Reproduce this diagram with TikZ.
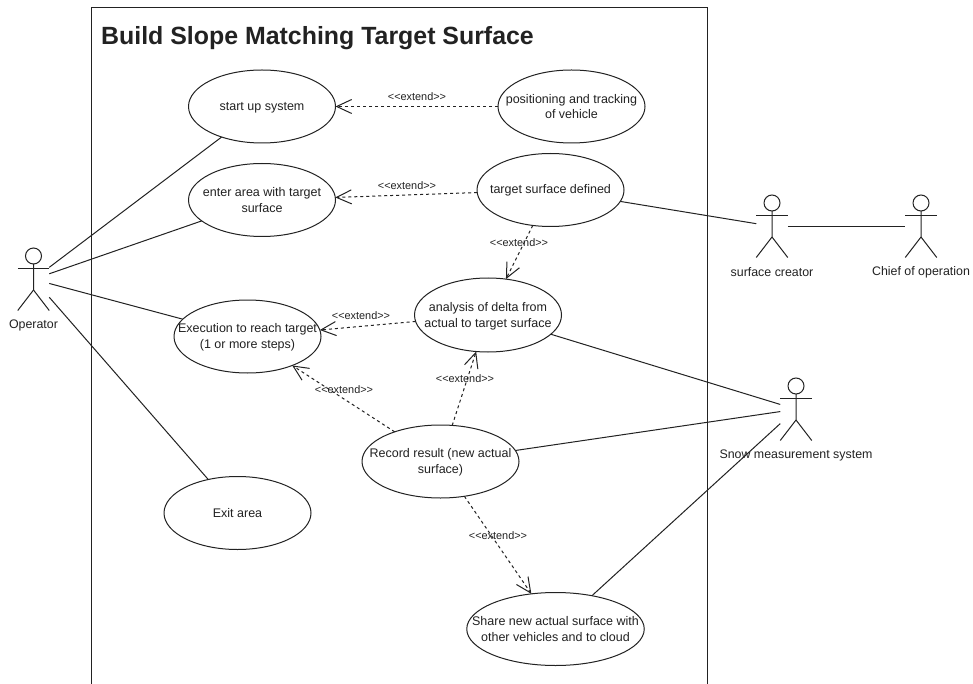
\documentclass[tikz,border=0pt]{standalone}
\usepackage{fontspec}
\setmainfont{Liberation Sans}
\usetikzlibrary{shapes.geometric,arrows.meta}
\definecolor{ink}{HTML}{222222}
\tikzset{
  x=1pt,y=-1pt,
  every node/.style={text=ink},
  uctext/.style={font=\fontsize{12.5}{15.7}\selectfont,align=center,inner sep=0pt},
  usecase/.style={ellipse,draw=ink,line width=1pt,fill=white,minimum width=147pt,minimum height=73pt,inner sep=0pt,outer sep=0pt},
  actorbox/.style={rectangle,minimum width=31.5pt,minimum height=62.5pt,inner sep=0pt,outer sep=0pt},
  actorline/.style={draw=ink,line width=1pt},
  actortext/.style={font=\fontsize{12.4}{15}\selectfont,inner sep=0pt},
  assoc/.style={draw=ink,line width=1pt},
  extendline/.style={draw=ink,line width=1pt,dash pattern=on 3pt off 3pt,-{Straight Barb[length=15pt,width=14pt,line width=1pt]}},
  extendtext/.style={font=\fontsize{10.9}{13}\selectfont,inner sep=0pt},
  frameline/.style={draw=ink,line width=1pt},
  titletext/.style={font=\bfseries\fontsize{24.9}{28}\selectfont,anchor=west,inner sep=0pt}
}
\newcommand{\extendword}{<\kern0pt<extend>\kern0pt>}
\newcommand{\umlactor}[5]{%
  \node[actorbox] (#1) at (#2,#3+31.25) {};
  \draw[actorline] (#2,#3+8) circle[radius=8pt];
  \draw[actorline] (#2,#3+16) -- (#2,#3+42) -- (#2-15.75,#3+62.5);
  \draw[actorline] (#2,#3+42) -- (#2+15.75,#3+62.5);
  \draw[actorline] (#2-15.75,#3+20.5) -- (#2+15.75,#3+20.5);
  \node[actortext] (#1-label) at (#4,#3+77) {#5};
}
\begin{document}
\begin{tikzpicture}
\path[use as bounding box,fill=white] (0,0) rectangle (973,684);
\draw[frameline] (91,684) -- (91,8) -- (707,8) -- (707,684);
\node[titletext] (title) at (101,38.5) {Build Slope Matching Target Surface};

\node[usecase,label={[uctext,yshift=-1pt]center:{start up system}}] (startup) at (262,106.5) {};
\node[usecase,label={[uctext]center:{positioning and tracking\\of vehicle}}] (positioning) at (571.5,106.5) {};
\node[usecase,label={[uctext]center:{enter area with target\\surface}}] (enter) at (262,200) {};
\node[usecase,label={[uctext]center:{target surface defined}}] (target) at (550.5,190) {};
\node[usecase,minimum height=74pt,label={[uctext,yshift=-1.5pt]center:{analysis of delta from\\actual to target surface}}] (analysis) at (488,315) {};
\node[usecase,label={[uctext,yshift=-1pt]center:{Execution to reach target\\(1 or more steps)}}] (execution) at (247.5,336.5) {};
\node[usecase,minimum width=157pt,label={[uctext,yshift=-1pt]center:{Record result (new actual\\surface)}}] (record) at (440.5,461.5) {};
\node[usecase,label={[uctext]center:{Exit area}}] (exit) at (237.5,513) {};
\node[usecase,minimum width=177.5pt,label={[uctext]center:{Share new actual surface with\\other vehicles and to cloud}}] (share) at (555.5,629) {};

\umlactor{operator}{33.5}{248}{33.5}{Operator}
\umlactor{creator}{772}{195}{772}{surface creator}
\umlactor{chief}{921}{195}{921}{Chief of operation}
\umlactor{snow}{796}{378}{796}{Snow measurement system}

\draw[assoc] (operator) -- (startup);
\draw[assoc] (operator) -- (enter);
\draw[assoc] (operator) -- (execution);
\draw[assoc] (operator) -- (exit);
\draw[assoc] (target) -- (creator);
\draw[assoc] (creator) -- (chief);
\draw[assoc] (analysis) -- (snow);
\draw[assoc] (record) -- (snow);
\draw[assoc] (share) -- (snow);

\draw[extendline] (positioning) -- (startup);
\draw[extendline] (target) -- (enter);
\draw[extendline] (target) -- (analysis);
\draw[extendline] (analysis) -- (execution);
\draw[extendline] (record) -- (execution);
\draw[extendline] (record) -- (analysis);
\draw[extendline] (record) -- (share);

\node[extendtext] (l1) at (417,97) {\extendword};
\node[extendtext] (l2) at (407,186) {\extendword};
\node[extendtext] (l3) at (519,243) {\extendword};
\node[extendtext] (l4) at (361,316) {\extendword};
\node[extendtext] (l5) at (344,390) {\extendword};
\node[extendtext] (l6) at (465,379) {\extendword};
\node[extendtext] (l7) at (498,536) {\extendword};
\end{tikzpicture}
\end{document}
